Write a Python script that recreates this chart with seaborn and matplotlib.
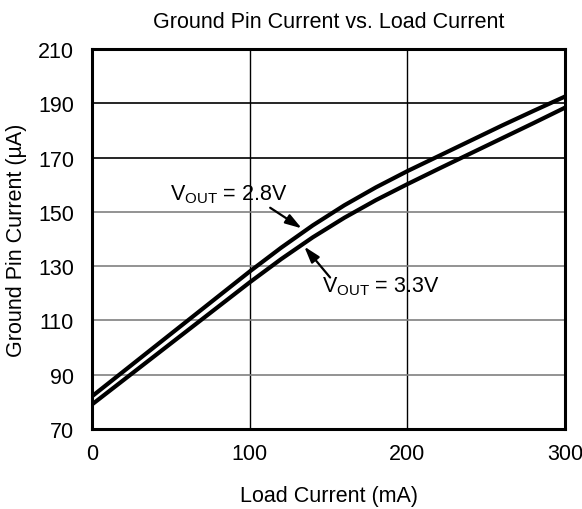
import matplotlib
matplotlib.use("Agg")
import matplotlib.pyplot as plt
import seaborn as sns
import pandas as pd

load_current = [0, 20, 40, 60, 80, 100, 120, 140, 160, 180, 200, 220, 240, 260, 280, 300]
gnd_2v8 = [82.0, 91.2, 100.4, 109.6, 118.8, 128.0, 136.8, 145.0, 152.4, 159.0, 165.0,
           170.6, 176.2, 181.8, 187.2, 192.5]
gnd_3v3 = [79.0, 88.0, 97.0, 106.0, 115.0, 124.0, 132.6, 140.6, 147.8, 154.3, 160.2,
           165.9, 171.5, 177.1, 182.7, 188.4]
series_names = ["VOUT = 2.8V", "VOUT = 3.3V"]
x_ticks = [0, 100, 200, 300]
y_ticks = [70, 90, 110, 130, 150, 170, 190, 210]

sns.set_theme(style="white")
plt.rcParams["font.family"] = ["Liberation Sans", "DejaVu Sans"]
plt.rcParams["mathtext.default"] = "regular"

df = pd.DataFrame({
    "Load": load_current * 2,
    "Gnd": gnd_2v8 + gnd_3v3,
    "Series": [series_names[0]] * len(load_current) + [series_names[1]] * len(load_current),
})

FS = 15.5
fig = plt.figure(figsize=(5.82, 5.10), dpi=100)
ax = fig.add_axes([0.158, 0.157, 0.813, 0.745])

sns.lineplot(data=df, x="Load", y="Gnd", hue="Series", palette=["black", "black"],
             linewidth=3.0, legend=False, ax=ax, estimator=None)
for ln in ax.get_lines():
    ln.set_solid_joinstyle("round")

ax.set_xlim(0, 300)
ax.set_ylim(70, 210)
ax.set_xticks(x_ticks)
ax.set_yticks(y_ticks)
ax.tick_params(axis="both", length=0, labelsize=FS, colors="black")
ax.tick_params(axis="y", pad=13)
ax.tick_params(axis="x", pad=10)

ax.grid(True, which="major", axis="both")
for i, gl in enumerate(ax.yaxis.get_gridlines()):
    v = y_ticks[i]
    gl.set_color("black" if v >= 170 else "#808080")
    gl.set_linewidth(1.2)
for gl in ax.xaxis.get_gridlines():
    gl.set_color("black")
    gl.set_linewidth(1.0)

for s in ax.spines.values():
    s.set_visible(True)
    s.set_color("black")
    s.set_linewidth(2.2)

ax.set_xlabel("Load Current (mA)", fontsize=FS, labelpad=15, color="black")
ax.set_ylabel("Ground Pin Current (µA)", fontsize=FS, labelpad=8, color="black")
ax.set_title("Ground Pin Current vs. Load Current", fontsize=FS, pad=15.5, color="black")

arrow_kw = dict(arrowstyle="-|>,head_length=0.7,head_width=0.22", color="black", lw=1.6,
                mutation_scale=14, shrinkA=0, shrinkB=0)
ax.text(49.5, 156.7, r"$V_{OUT}$ = 2.8V", fontsize=FS, ha="left", va="center", color="black")
ax.annotate("", xy=(133, 143.9), xytext=(113, 151.5), arrowprops=arrow_kw)
ax.text(145.6, 122.7, r"$V_{OUT}$ = 3.3V", fontsize=FS, ha="left", va="center", color="black")
ax.annotate("", xy=(134.6, 137.2), xytext=(151, 125.8), arrowprops=arrow_kw)

fig.savefig("out.png", dpi=100)
